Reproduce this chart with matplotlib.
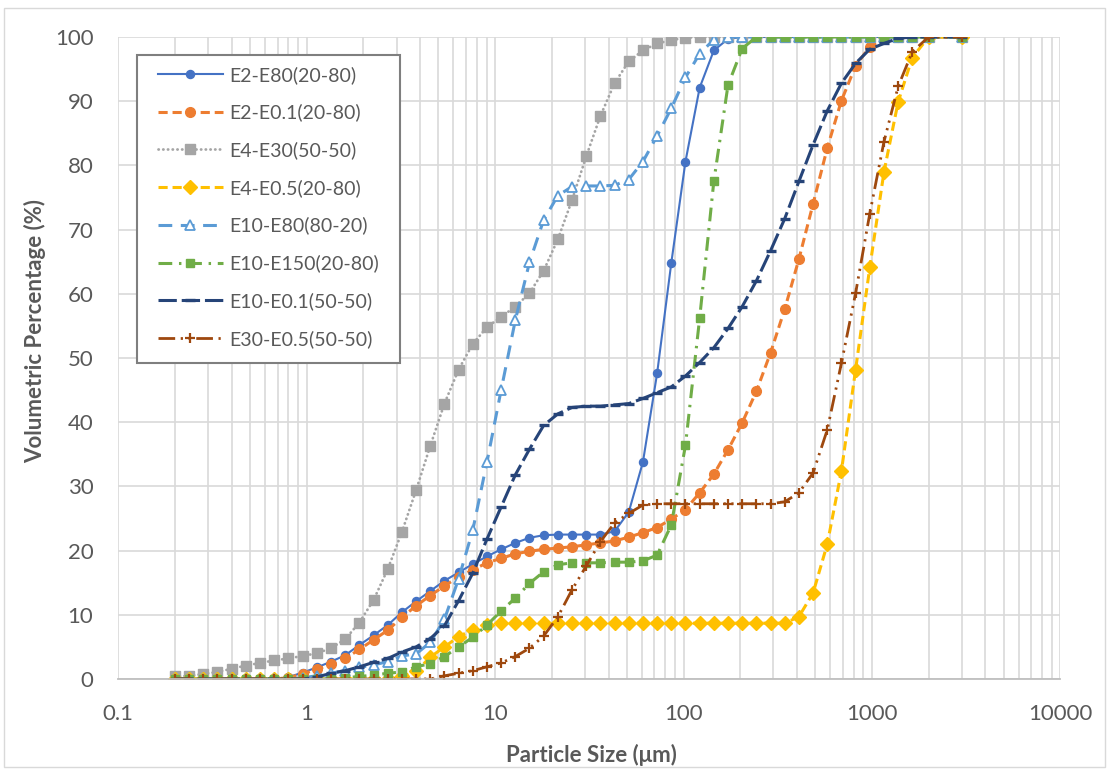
import matplotlib
matplotlib.use('Agg')
import matplotlib.pyplot as plt
from matplotlib.patches import Rectangle

plt.rcParams['font.family'] = ['Lato', 'DejaVu Sans']

# particle size classes (um)
size = [0.2, 0.238, 0.283, 0.336, 0.4, 0.476, 0.566, 0.673, 0.8, 0.951,
        1.131, 1.345, 1.6, 1.903, 2.263, 2.691, 3.2, 3.805, 4.525, 5.382,
        6.4, 7.611, 9.051, 10.76, 12.8, 15.22, 18.1, 21.53, 25.6, 30.44,
        36.2, 43.05, 51.2, 60.89, 72.41, 86.11, 102.4, 121.8, 144.8, 172.2,
        204.8, 243.5, 289.6, 344.4, 409.6, 487.1, 579.3, 688.9, 819.2, 974.2,
        1159, 1378, 1638, 2000, 3000]

# cumulative volume (%)
e2_e80 = [0, 0, 0, 0, 0, 0, 0, 0, 0.3, 1.0,
          1.8, 2.7, 3.7, 5.3, 6.8, 8.4, 10.4, 12.1, 13.7, 15.3,
          16.6, 17.9, 19.1, 20.2, 21.2, 22.0, 22.4, 22.5, 22.5, 22.5,
          22.5, 23.0, 26.0, 33.8, 47.6, 64.8, 80.6, 92.1, 97.9, 99.7,
          100, 100, 100, 100, 100, 100, 100, 100, 100, 100,
          100, 100, 100, 100, 100]
e2_e01 = [0, 0, 0, 0, 0, 0, 0, 0, 0.2, 0.8,
          1.5, 2.3, 3.2, 4.6, 6.1, 7.6, 9.6, 11.4, 13.0, 14.5,
          15.9, 17.0, 18.1, 18.8, 19.5, 19.9, 20.2, 20.4, 20.6, 20.9,
          21.2, 21.5, 22.1, 22.8, 23.6, 24.9, 26.4, 29.0, 31.9, 35.7,
          39.9, 44.8, 50.8, 57.6, 65.4, 74.0, 82.7, 90.1, 95.5, 98.5,
          99.7, 100, 100, 100, 100]
e4_e30 = [0.4, 0.5, 0.8, 1.1, 1.6, 2.1, 2.5, 2.9, 3.2, 3.6,
          4.0, 4.8, 6.2, 8.8, 12.3, 17.1, 22.9, 29.4, 36.3, 42.9,
          48.2, 52.2, 54.8, 56.4, 58.0, 60.1, 63.6, 68.5, 74.6, 81.4,
          87.7, 92.8, 96.2, 97.9, 99.0, 99.5, 99.9, 100, 100, 100,
          100, 100, 100, 100, 100, 100, 100, 100, 100, 100,
          100, 100, 100, 100, 100]
e4_e05 = [0, 0, 0, 0, 0, 0, 0, 0, 0, 0,
          0, 0, 0, 0, 0, 0, 0.4, 1.2, 3.4, 5.0,
          6.6, 7.7, 8.4, 8.7, 8.7, 8.7, 8.7, 8.7, 8.7, 8.7,
          8.7, 8.7, 8.7, 8.7, 8.7, 8.7, 8.7, 8.7, 8.7, 8.7,
          8.7, 8.7, 8.7, 8.7, 9.7, 13.4, 21.0, 32.4, 48.2, 64.1,
          79.0, 89.9, 96.8, 100, 100]
e10_e80 = [0, 0, 0, 0, 0, 0, 0, 0, 0, 0.2,
           0.5, 0.9, 1.3, 1.8, 2.2, 2.7, 3.6, 3.9, 5.7, 9.3,
           15.6, 23.2, 33.8, 45.0, 55.9, 64.9, 71.5, 75.3, 76.7, 76.8,
           76.8, 76.9, 77.8, 80.6, 84.6, 88.9, 93.7, 97.4, 99.6, 100,
           100, 100, 100, 100, 100, 100, 100, 100, 100, 100,
           100, 100, 100, 100, 100]
e10_e150 = [0, 0, 0, 0, 0, 0, 0, 0, 0, 0,
            0, 0, 0.2, 0.4, 0.6, 0.9, 1.1, 1.9, 2.4, 3.5,
            5.0, 6.5, 8.4, 10.6, 12.6, 14.9, 16.7, 17.8, 18.1, 18.1,
            18.1, 18.2, 18.2, 18.4, 19.3, 24.0, 36.4, 56.2, 77.5, 92.5,
            98.2, 100, 100, 100, 100, 100, 100, 100, 100, 100,
            100, 100, 100, 100, 100]
e10_e01 = [0, 0, 0, 0, 0, 0, 0, 0, 0, 0,
           0.3, 0.9, 1.3, 1.9, 2.6, 3.2, 4.2, 5.0, 6.3, 8.3,
           12.2, 16.5, 21.8, 26.8, 31.8, 35.8, 39.5, 41.3, 42.3, 42.5,
           42.5, 42.7, 42.9, 43.7, 44.6, 45.5, 47.2, 49.3, 51.6, 54.6,
           58.0, 62.0, 66.7, 71.7, 77.5, 83.2, 88.5, 92.8, 95.9, 98.1,
           99.0, 99.8, 100, 100, 100]
e30_e05 = [0, 0, 0, 0, 0, 0, 0, 0, 0, 0,
           0, 0, 0, 0, 0, 0, 0, 0, 0, 0.5,
           0.9, 1.3, 1.9, 2.5, 3.5, 4.8, 6.7, 9.7, 13.9, 17.6,
           21.4, 24.3, 25.8, 27.1, 27.3, 27.3, 27.3, 27.3, 27.3, 27.3,
           27.3, 27.3, 27.3, 27.6, 29.0, 32.1, 38.8, 49.2, 60.1, 72.5,
           83.7, 92.3, 97.7, 100, 100]

labels = ['E2-E80(20-80)', 'E2-E0.1(20-80)', 'E4-E30(50-50)', 'E4-E0.5(20-80)',
          'E10-E80(80-20)', 'E10-E150(20-80)', 'E10-E0.1(50-50)', 'E30-E0.5(50-50)']

fig = plt.figure(figsize=(11.09, 7.71), dpi=100)
ax = fig.add_axes([0.1067, 0.1193, 0.8494, 0.8327])

# series drawn in excel order, last one on top
ax.plot(size, e2_e80, color='#4472C4', lw=1.5, marker='o', ms=5.8, label=labels[0])
ax.plot(size, e2_e01, color='#ED7D31', lw=2.2, dashes=(3, 1.6), marker='o', ms=7, label=labels[1])
ax.plot(size, e4_e30, color='#A5A5A5', lw=2.0, dashes=(0.1, 1.6), dash_capstyle='round',
        marker='s', ms=6.5, label=labels[2])
ax.plot(size, e4_e05, color='#FFC000', lw=2.2, dashes=(3, 1.6), marker='D', ms=7, label=labels[3])
ax.plot(size, e10_e80, color='#5B9BD5', lw=2.2, dashes=(4.5, 2.8), marker='^', ms=6.5,
        mfc='white', mec='#5B9BD5', mew=1.3, label=labels[4])
ax.plot(size, e10_e150, color='#70AD47', lw=2.2, dashes=(4.5, 2.2, 0.8, 2.2), marker='s', ms=5.5, label=labels[5])
ax.plot(size, e10_e01, color='#264478', lw=2.2, dashes=(6, 1.6), marker='_', ms=7.5, mew=2.4, label=labels[6])
ax.plot(size, e30_e05, color='#9E480E', lw=2.0, dashes=(6, 2, 0.8, 2, 0.8, 2), marker='+', ms=6.5, mew=1.6, label=labels[7])

ax.set_xscale('log')
ax.set_xlim(0.1, 10000)
ax.set_ylim(0, 100)
ax.set_yticks(range(0, 101, 10))
ax.set_xticks([0.1, 1, 10, 100, 1000, 10000])
ax.set_xticklabels(['0.1', '1', '10', '100', '1000', '10000'])

ax.grid(True, which='major', color='#D9D9D9', lw=1.2)
ax.grid(True, which='minor', axis='x', color='#D9D9D9', lw=1.2)
ax.set_axisbelow(True)
for s in ['top', 'right', 'left']:
    ax.spines[s].set_visible(False)
ax.spines['bottom'].set_color('#BFBFBF')
ax.spines['bottom'].set_linewidth(1.3)
ax.tick_params(which='both', length=0, labelsize=16, labelcolor='#595959')
ax.tick_params(axis='x', pad=18)
ax.tick_params(axis='y', pad=18)

ax.set_xlabel('Particle Size (μm)', fontsize=16, fontweight='bold', color='#595959', va='center')
ax.xaxis.set_label_coords(0.502, -0.118)
ax.set_ylabel('Volumetric Percentage (%)', fontsize=16, fontweight='bold', color='#595959', va='center')
ax.yaxis.set_label_coords(-0.088, 0.542)

# legend box drawn by hand (wider side padding than top/bottom, like excel)
ax.add_patch(Rectangle((0.0202, 0.4922), 0.2792, 0.4798, transform=ax.transAxes,
                       facecolor='white', edgecolor='#7F7F7F', lw=1.5, zorder=5))
leg = ax.legend(loc='upper left', bbox_to_anchor=(0.0425, 0.9552), borderaxespad=0,
                borderpad=0, frameon=False, fontsize=14, labelcolor='#595959',
                handlelength=3.3, handletextpad=0.35, labelspacing=1.02, numpoints=1)
leg.set_zorder(6)

# light border round the whole chart area
fig.patches.append(Rectangle((0.004, 0.005), 0.992, 0.985, transform=fig.transFigure,
                             fill=False, edgecolor='#D9D9D9', lw=1))

fig.savefig('out.png', dpi=100)
